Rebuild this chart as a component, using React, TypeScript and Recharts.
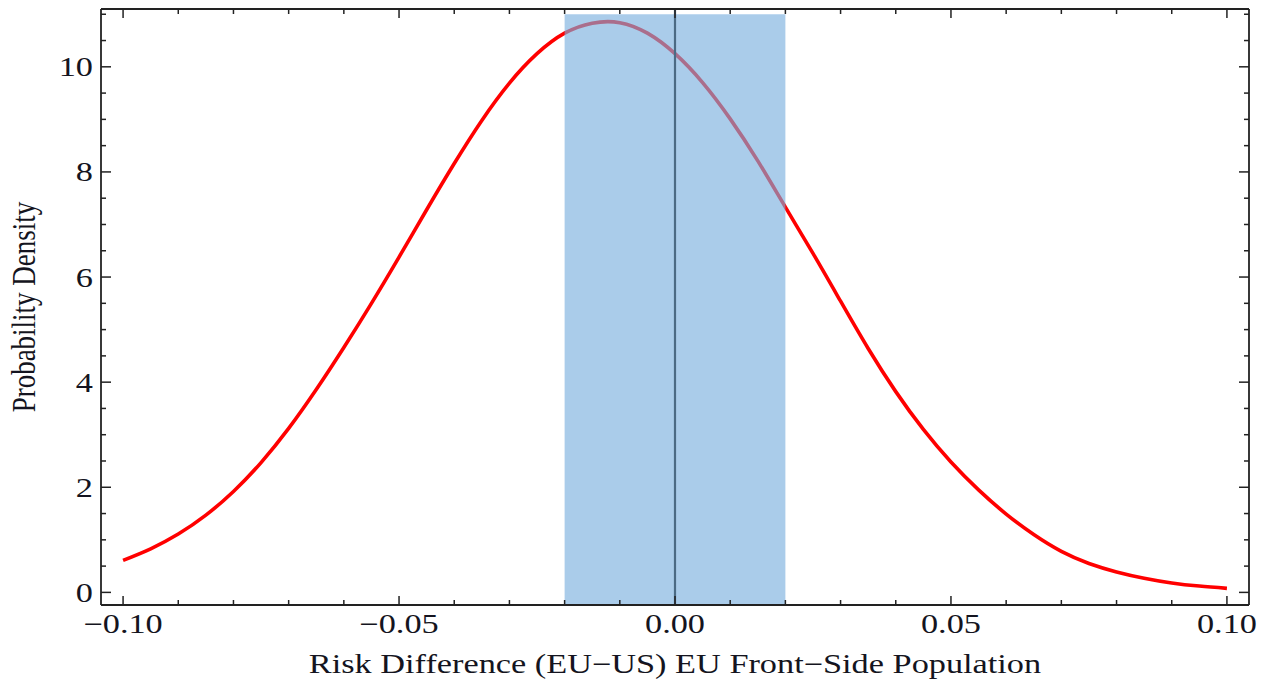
import React from 'react';
import { ComposedChart, Line, XAxis, YAxis, ReferenceArea, ReferenceLine } from 'recharts';

const xValues = [-0.1, -0.095, -0.09, -0.085, -0.08, -0.075, -0.07, -0.065, -0.06, -0.055, -0.05, -0.045, -0.04, -0.035, -0.03, -0.025, -0.02, -0.015, -0.01, -0.005, 0, 0.005, 0.01, 0.015, 0.02, 0.025, 0.03, 0.035, 0.04, 0.045, 0.05, 0.055, 0.06, 0.065, 0.07, 0.075, 0.08, 0.085, 0.09, 0.095, 0.1];
const densityValues = [0.61, 0.83, 1.11, 1.47, 1.92, 2.47, 3.12, 3.86, 4.66, 5.5, 6.38, 7.28, 8.16, 8.98, 9.69, 10.25, 10.64, 10.83, 10.84, 10.64, 10.25, 9.7, 9.01, 8.21, 7.33, 6.45, 5.54, 4.64, 3.82, 3.1, 2.48, 1.95, 1.49, 1.1, 0.78, 0.55, 0.39, 0.27, 0.18, 0.12, 0.076];

const xTicks = [-0.1, -0.09, -0.08, -0.07, -0.06, -0.05, -0.04, -0.03, -0.02, -0.01, 0, 0.01, 0.02, 0.03, 0.04, 0.05, 0.06, 0.07, 0.08, 0.09, 0.1];
const xMajorTicks = [-0.1, -0.05, 0, 0.05, 0.1];
const xTickLabels = ['\u22120.10', '\u22120.05', '0.00', '0.05', '0.10'];
const yTicks = [0, 0.5, 1, 1.5, 2, 2.5, 3, 3.5, 4, 4.5, 5, 5.5, 6, 6.5, 7, 7.5, 8, 8.5, 9, 9.5, 10, 10.5, 11];
const yMajorTicks = [0, 2, 4, 6, 8, 10];
const yTickLabels = ['0', '2', '4', '6', '8', '10'];

const xDomain = [-0.104, 0.104];
const yDomain = [-0.24, 11.1];
const band = { x1: -0.02, x2: 0.02, y1: -0.24, y2: 11 };
const xTitle = 'Risk Difference (EU\u2212US) EU Front\u2212Side Population';
const yTitle = 'Probability Density';

const data = xValues.map((x, i) => ({ x, d: densityValues[i] }));

const FONT = '"Liberation Serif", "DejaVu Serif", serif';
const TEXT = '#141420';
const FRAME = '#222';
const SX = 1.27;

const majorIndex = (arr: number[], v: number) => arr.findIndex((m) => Math.abs(m - v) < 1e-9);

const XBottomTick = (props: any) => {
  const { x, y, payload } = props;
  const mi = majorIndex(xMajorTicks, payload.value);
  const len = mi >= 0 ? 9 : 5;
  return (
    <g>
      <line x1={x} y1={y} x2={x} y2={y - len} stroke={FRAME} strokeWidth={1.5} />
      {mi >= 0 && (
        <text transform={`translate(${x},${y + 28}) scale(${SX},1)`} textAnchor="middle" fontFamily={FONT} fontSize={27} fill={TEXT}>
          {xTickLabels[mi]}
        </text>
      )}
    </g>
  );
};

const XTopTick = (props: any) => {
  const { x, y, payload } = props;
  const mi = majorIndex(xMajorTicks, payload.value);
  const len = mi >= 0 ? 9 : 5;
  return <line x1={x} y1={y} x2={x} y2={y + len} stroke={FRAME} strokeWidth={1.5} />;
};

const YLeftTick = (props: any) => {
  const { x, y, payload } = props;
  const mi = majorIndex(yMajorTicks, payload.value);
  const len = mi >= 0 ? 10 : 5;
  return (
    <g>
      <line x1={x} y1={y} x2={x + len} y2={y} stroke={FRAME} strokeWidth={1.5} />
      {mi >= 0 && (
        <text transform={`translate(${x - 8},${y + 9.5}) scale(${SX},1)`} textAnchor="end" fontFamily={FONT} fontSize={27} fill={TEXT}>
          {yTickLabels[mi]}
        </text>
      )}
    </g>
  );
};

const YRightTick = (props: any) => {
  const { x, y, payload } = props;
  const mi = majorIndex(yMajorTicks, payload.value);
  const len = mi >= 0 ? 10 : 5;
  return <line x1={x} y1={y} x2={x - len} y2={y} stroke={FRAME} strokeWidth={1.5} />;
};

const XTitle = (props: any) => {
  const vb = props.viewBox || { x: 101, y: 605, width: 1148, height: 78 };
  return (
    <text transform={`translate(${vb.x + vb.width / 2},${vb.y + 68}) scale(${SX},1)`} textAnchor="middle" fontFamily={FONT} fontSize={27} fill={TEXT}>
      {xTitle}
    </text>
  );
};

const YTitle = (props: any) => {
  const vb = props.viewBox || { x: 0, y: 9, width: 101, height: 596 };
  return (
    <text transform={`translate(35,${vb.y + vb.height / 2}) scale(${SX},1) rotate(-90)`} textAnchor="middle" fontFamily={FONT} fontSize={27} fill={TEXT}>
      {yTitle}
    </text>
  );
};

export default function App() {
  const areaProps: any = { zIndex: 450 };
  const lineRefProps: any = { zIndex: 460 };
  return (
    <div style={{ position: 'absolute', left: 0, top: 0, width: 1270, height: 683, background: '#fff' }}>
      <ComposedChart width={1270} height={683} data={data} margin={{ top: 0, right: 0, bottom: 0, left: 0 }}>
        <XAxis
          xAxisId="b"
          type="number"
          dataKey="x"
          domain={xDomain}
          ticks={xTicks}
          interval={0}
          allowDataOverflow
          height={78}
          tickSize={0}
          tickMargin={0}
          tickLine={false}
          axisLine={{ stroke: FRAME, strokeWidth: 1.8 }}
          tick={<XBottomTick />}
          label={<XTitle />}
        />
        <XAxis
          xAxisId="t"
          orientation="top"
          type="number"
          dataKey="x"
          domain={xDomain}
          ticks={xTicks}
          interval={0}
          allowDataOverflow
          height={9}
          tickSize={0}
          tickMargin={0}
          tickLine={false}
          axisLine={{ stroke: FRAME, strokeWidth: 1.8 }}
          tick={<XTopTick />}
        />
        <YAxis
          yAxisId="l"
          type="number"
          domain={yDomain}
          ticks={yTicks}
          interval={0}
          allowDataOverflow
          width={101}
          tickSize={0}
          tickMargin={0}
          tickLine={false}
          axisLine={{ stroke: FRAME, strokeWidth: 1.8 }}
          tick={<YLeftTick />}
          label={<YTitle />}
        />
        <YAxis
          yAxisId="r"
          orientation="right"
          type="number"
          domain={yDomain}
          ticks={yTicks}
          interval={0}
          allowDataOverflow
          width={21}
          tickSize={0}
          tickMargin={0}
          tickLine={false}
          axisLine={{ stroke: FRAME, strokeWidth: 1.8 }}
          tick={<YRightTick />}
        />
        <Line
          xAxisId="b"
          yAxisId="l"
          type="natural"
          dataKey="d"
          stroke="#ff0000"
          strokeWidth={3.6}
          dot={false}
          activeDot={false}
          isAnimationActive={false}
        />
        <ReferenceArea
          {...areaProps}
          xAxisId="b"
          yAxisId="l"
          x1={band.x1}
          x2={band.x2}
          y1={band.y1}
          y2={band.y2}
          fill="rgb(120,175,222)"
          fillOpacity={0.63}
          stroke="none"
          ifOverflow="hidden"
        />
        <ReferenceLine {...lineRefProps} xAxisId="b" yAxisId="l" x={0} stroke="#4b6a84" strokeWidth={2.2} />
      </ComposedChart>
    </div>
  );
}
